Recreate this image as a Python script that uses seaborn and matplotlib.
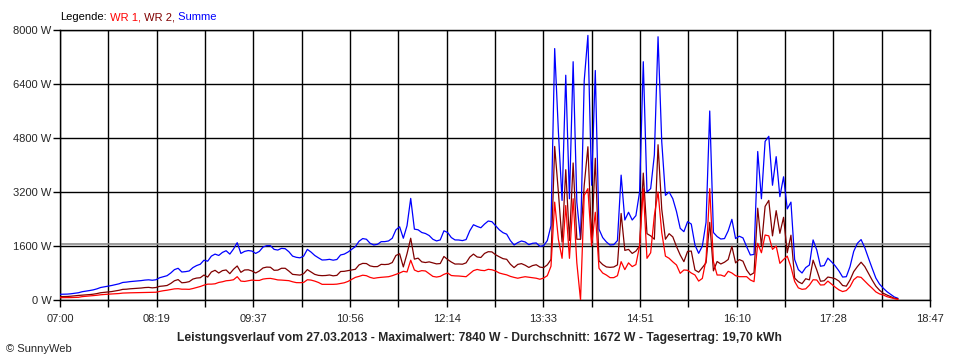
import pandas as pd
import seaborn as sns
import matplotlib
matplotlib.use("Agg")
import matplotlib.pyplot as plt
import matplotlib.dates as mdates

# Messwerte alle 3 Minuten ab 07:00 (Leistung in W)
wr1 = [
    69, 69, 70, 72, 75, 80, 100, 110, 120, 128,
    140, 155, 165, 172, 180, 185, 192, 205, 210, 213,
    215, 218, 220, 222, 224, 225, 230, 255, 275, 290,
    310, 330, 335, 320, 320, 316, 340, 370, 400, 440,
    470, 470, 480, 520, 540, 570, 580, 600,
    691, 560, 550, 570, 590, 580, 580, 620, 635, 640,
    620, 595, 590, 580, 573, 540, 515, 513, 520, 600,
    590, 560, 520, 464, 464, 464, 464, 470, 490, 510,
    550, 610, 670, 700, 735, 720, 670, 642, 660, 672,
    680, 690, 720, 760, 800, 850, 830,
    1180, 889, 840, 870, 860, 780, 700, 680, 700, 760,
    800, 725, 715, 711, 700, 690, 780, 870, 905, 880,
    870, 909, 895, 860, 800, 770, 745, 700, 670, 645,
    670, 690, 675, 660, 645, 615, 650, 720, 1000,
    2900, 1800, 1235, 2800, 1235, 3000, 1100, 0, 3100, 3300,
    1600, 2600, 940, 800, 740, 662, 662, 720, 1136, 900,
    1100, 990, 1050, 1600, 3300, 1235, 1400, 2500, 3200, 2000,
    1300, 1235, 1130, 1037, 790, 889, 880, 800, 741, 560,
    640, 1200, 3300, 1136, 740, 740, 700,
    850, 800, 720, 691, 690, 691, 593, 543, 1680, 1400,
    1926, 1900, 1500, 1600, 1086, 1200, 1300, 980, 550, 360,
    316, 330, 440, 600, 593, 444, 450, 560, 470, 380,
    300, 250, 280, 395, 600, 690, 670, 560, 450, 350,
    240, 180, 150, 99, 69, 40, 15,
]
wr2 = [
    100, 102, 105, 113, 125, 135, 145, 152, 160, 172,
    190, 215, 225, 238, 250, 269, 288, 315, 320, 332,
    340, 347, 355, 368, 374, 360, 370, 405, 415, 430,
    490, 570, 605, 510, 520, 544, 620, 650, 660, 740,
    680, 830, 880, 800, 870, 890, 780, 910,
    1008, 820, 890, 895, 860, 800, 860, 950, 975, 970,
    880, 885, 940, 940, 857, 760, 750, 737, 780, 900,
    830, 760, 730, 721, 726, 741, 716, 730, 844, 850,
    870, 890, 910, 1040, 1085, 1080, 1010, 988, 990, 1056,
    1050, 1060, 1110, 1320, 1370, 980, 1370,
    1830, 1211, 1240, 1130, 1110, 1130, 1100, 1070, 1080, 1290,
    1200, 1125, 1065, 1067, 1060, 1100, 1270, 1360, 1275, 1260,
    1380, 1431, 1425, 1340, 1280, 1225, 1205, 1060, 960, 1055,
    1078, 1030, 965, 1020, 1045, 975, 960, 1040, 1200,
    4550, 3200, 1715, 3860, 1765, 4060, 1800, 1800, 3400, 4540,
    1800, 4200, 1160, 1050, 980, 968, 978, 1040, 2564, 1470,
    1500, 1380, 1450, 1600, 3760, 1965, 1900, 1800, 4600, 2690,
    1800, 1965, 1870, 1583, 1334, 1136, 1441, 1450, 889, 823,
    960, 1100, 2300, 864, 1140, 1067, 1120,
    1200, 1590, 1100, 1199, 1150, 889, 740, 807, 2720, 1600,
    2774, 2950, 1900, 2647, 1976, 2450, 1400, 1920, 650, 540,
    484, 630, 597, 1180, 887, 556, 570, 680, 660, 630,
    560, 430, 410, 593, 840, 990, 1120, 990, 790, 590,
    410, 290, 200, 148, 101, 50, 35,
]
x_labels = ["07:00", "08:19", "09:37", "10:56", "12:14",
            "13:33", "14:51", "16:10", "17:28", "18:47"]
y_ticks = [0, 1600, 3200, 4800, 6400, 8000]
durchschnitt = 1672
titel = ("Leistungsverlauf vom 27.03.2013 - Maximalwert: 7840 W - "
         "Durchschnitt: 1672 W - Tagesertrag: 19,70 kWh")

farben = {"Summe": "#0000ff", "WR 2": "#800000", "WR 1": "#ff0000"}

# Daten aufbereiten
zeit = pd.date_range("2013-03-27 07:00", periods=len(wr1), freq="3min")
df = pd.DataFrame({"Zeit": zeit, "WR 1": wr1, "WR 2": wr2})
df["Summe"] = df["WR 1"] + df["WR 2"]
lang = df.melt(id_vars="Zeit", var_name="Serie", value_name="Leistung")

sns.set_style("white")
plt.rcParams["font.family"] = ["Liberation Sans", "DejaVu Sans"]

fig = plt.figure(figsize=(9.6, 3.6), dpi=100)
ax = fig.add_axes([60 / 960, 60 / 360, 870 / 960, 270 / 360])

sns.lineplot(data=lang, x="Zeit", y="Leistung", hue="Serie",
             hue_order=["Summe", "WR 2", "WR 1"], palette=farben,
             lw=0.9, legend=False, ax=ax, zorder=3)

ax.axhline(durchschnitt, color="#8c8c8c", lw=1.2, zorder=2)

# Achsen: 18 Rasterfelder von 07:00 bis 18:47
start = pd.Timestamp("2013-03-27 07:00")
raster = [mdates.date2num(start + pd.Timedelta(minutes=707 * k / 18)) for k in range(19)]
ax.set_xlim(raster[0], raster[-1])
ax.set_ylim(0, 8000)
ax.set_xticks(raster[::2])
ax.set_xticklabels(x_labels)
ax.set_xticks(raster[1::2], minor=True)
ax.set_yticks(y_ticks)
ax.set_yticklabels([f"{v} W" for v in y_ticks])
ax.set_xlabel("")
ax.set_ylabel("")

ax.set_axisbelow(True)
ax.grid(True, which="both", axis="x", color="black", lw=1.0)
ax.grid(True, which="major", axis="y", color="black", lw=1.0)
ax.tick_params(axis="both", which="both", direction="out", length=5, width=1.0,
               color="black", labelsize=8, bottom=True, left=True)
ax.tick_params(axis="x", pad=5)
ax.tick_params(axis="y", pad=1)
for s in ax.spines.values():
    s.set_color("black")
    s.set_linewidth(1.0)

# Legende als farbiger Text
t = fig.text(60 / 960, 1 - 17 / 360, "Legende:", fontsize=8, va="center", color="black")
for txt, serie in [(" WR 1,", "WR 1"), (" WR 2,", "WR 2"), (" Summe", "Summe")]:
    t = ax.annotate(txt, xy=(1, 0), xycoords=t, va="bottom", ha="left",
                    fontsize=8, color=farben[serie], annotation_clip=False)

fig.text(479 / 960, 1 - 338 / 360, titel, fontsize=8.7, fontweight="bold",
         ha="center", va="center")
fig.text(6 / 960, 1 - 349 / 360, "© SunnyWeb", fontsize=8, va="center")

fig.savefig("out.png", dpi=100)
plt.close()
